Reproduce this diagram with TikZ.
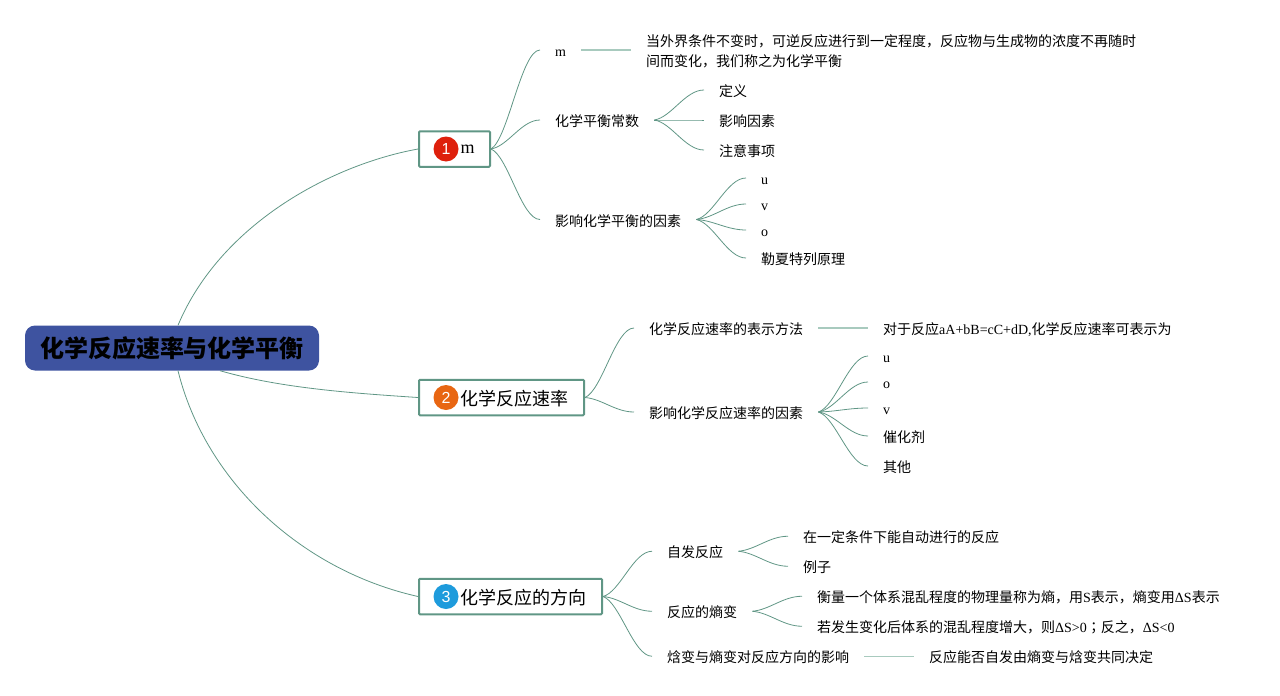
\documentclass[tikz,border=0pt]{standalone}
\usepackage{fontspec}
\setmainfont{Liberation Serif}
\newfontfamily\cjk{Noto Sans CJK SC}
\newfontfamily\cjkpunct{Noto Sans CJK TC}
\newfontfamily\numfont{Liberation Sans}
\definecolor{rootcolor}{RGB}{62,83,160}
\definecolor{linkcolor}{RGB}{96,150,133}
\definecolor{stemcolor}{RGB}{168,202,190}
\definecolor{numred}{RGB}{222,32,12}
\definecolor{numorange}{RGB}{232,102,18}
\definecolor{numblue}{RGB}{30,155,220}
\usetikzlibrary{positioning, calc}
\tikzset{
  rootnode/.style={fill=rootcolor, rounded corners=10pt, minimum width=294pt, minimum height=45pt, inner sep=0pt, font=\cjk\fontsize{24}{28}\selectfont\bfseries},
  topic/.style={draw=linkcolor, line width=2pt, rounded corners=1pt, anchor=west, minimum height=35.5pt, inner ysep=0pt, inner xsep=15.5pt, text height=17pt, text depth=1pt, font=\fontsize{18}{22}\selectfont},
  badge/.style={circle, minimum size=25pt, inner sep=0pt, text=white, font=\numfont\fontsize{16}{18}\selectfont},
  leaf/.style={anchor=west, inner ysep=0pt, inner xsep=15pt, text height=14pt, text depth=1pt, font=\fontsize{14}{20}\selectfont},
  link/.style={draw=linkcolor, line width=0.8pt},
  curve/.style={link, to path={let \p1=(\tikztostart), \p2=(\tikztotarget) in .. controls ({\x1+.35*(\x2-\x1)},{\y1+.1*(\y2-\y1)}) and ({\x1+.62*(\x2-\x1)},\y2) .. (\p2)}},
  stem/.style={draw=stemcolor, line width=1.3pt}
}
\begin{document}
\begin{tikzpicture}[x=1pt, y=-1pt]
  \useasboundingbox (0,0) rectangle (1280,696);
  \node[rootnode] (root) at (172,348) {化学反应速率与化学平衡};
  % first branch
  \node[topic, text height=, text depth=] (eq) at (418,149) {\hspace{26pt}m};
  \node[badge, fill=numred] (eqnum) at ([xshift=28pt]eq.west) {1};
  \node[leaf] (eqm) at (540,50) {m};
  \node[leaf, text height=, text depth=, align=left] (eqmtext) at (631,50) {\rule{0pt}{14pt}{\cjk 当外界条件不变时，可逆反应进行到一定程度，反应物与生成物的浓度不再随时}\\{\cjk 间而变化，我们称之为化学平衡}};
  \node[leaf] (eqk) at (540,120) {{\cjk 化学平衡常数}};
  \node[leaf] (eqka) at (704,90) {{\cjk 定义}};
  \node[leaf] (eqkb) at (704,120) {{\cjk 影响因素}};
  \node[leaf] (eqkc) at (704,150) {{\cjk 注意事项}};
  \node[leaf] (eqf) at (540,219.5) {{\cjk 影响化学平衡的因素}};
  \node[leaf] (eqfa) at (746,178) {u};
  \node[leaf] (eqfb) at (746,204) {v};
  \node[leaf] (eqfc) at (746,230) {o};
  \node[leaf] (eqfd) at (746,258) {{\cjk 勒夏特列原理}};
  % second branch
  \node[topic] (rate) at (418,397.5) {\hspace{26pt}{\cjk 化学反应速率}};
  \node[badge, fill=numorange] (ratenum) at ([xshift=28pt]rate.west) {2};
  \node[leaf] (ratem) at (634,328) {{\cjk 化学反应速率的表示方法}};
  \node[leaf] (ratemtext) at (868,328) {{\cjk 对于反应}aA+bB=cC+dD,{\cjk 化学反应速率可表示为}};
  \node[leaf] (ratef) at (634,412) {{\cjk 影响化学反应速率的因素}};
  \node[leaf] (ratefa) at (868,356) {u};
  \node[leaf] (ratefb) at (868,382) {o};
  \node[leaf] (ratefc) at (868,408) {v};
  \node[leaf] (ratefd) at (868,436) {{\cjk 催化剂}};
  \node[leaf] (ratefe) at (868,466) {{\cjk 其他}};
  % third branch
  \node[topic] (dir) at (418,596.5) {\hspace{26pt}{\cjk 化学反应的方向}};
  \node[badge, fill=numblue] (dirnum) at ([xshift=28pt]dir.west) {3};
  \node[leaf] (dirs) at (652,551.25) {{\cjk 自发反应}};
  \node[leaf] (dirsa) at (788,536.25) {{\cjk 在一定条件下能自动进行的反应}};
  \node[leaf] (dirsb) at (788,566.25) {{\cjk 例子}};
  \node[leaf] (dire) at (652,611.25) {{\cjk 反应的熵变}};
  \node[leaf] (direa) at (802,596.25) {{\cjk 衡量一个体系混乱程度的物理量称为熵，用}S{\cjk 表示，熵变用}ΔS{\cjk 表示}};
  \node[leaf] (direb) at (802,626.25) {{\cjk 若发生变化后体系的混乱程度增大，则}ΔS>0{\cjkpunct ；}{\cjk 反之，}ΔS<0};
  \node[leaf] (dirh) at (652,656.25) {{\cjk 焓变与熵变对反应方向的影响}};
  \node[leaf] (dirhtext) at (914,656.25) {{\cjk 反应能否自发由熵变与焓变共同决定}};
  % connectors
  \draw[link] ([xshift=6pt]root.north) .. controls (220,225) and (330,165) .. (eq.west);
  \draw[link] ([xshift=48pt]root.south) .. controls (280,388) and (350,393) .. (rate.west);
  \draw[link] ([xshift=6pt]root.south) .. controls (205,480) and (300,570) .. (dir.west);
  \foreach \kid in {eqm, eqk, eqf} \draw[curve] (eq.east) to (\kid.west);
  \foreach \kid in {eqka, eqkb, eqkc} \draw[curve] (eqk.east) to (\kid.west);
  \foreach \kid in {eqfa, eqfb, eqfc, eqfd} \draw[curve] (eqf.east) to (\kid.west);
  \foreach \kid in {ratem, ratef} \draw[curve] (rate.east) to (\kid.west);
  \foreach \kid in {ratefa, ratefb, ratefc, ratefd, ratefe} \draw[curve] (ratef.east) to (\kid.west);
  \foreach \kid in {dirs, dire, dirh} \draw[curve] (dir.east) to (\kid.west);
  \foreach \kid in {dirsa, dirsb} \draw[curve] (dirs.east) to (\kid.west);
  \foreach \kid in {direa, direb} \draw[curve] (dire.east) to (\kid.west);
  \draw[stem] (eqm.east) -- (eqmtext.west);
  \draw[stem] (ratem.east) -- (ratemtext.west);
  \draw[stem] (dirh.east) -- (dirhtext.west);
\end{tikzpicture}
\end{document}
